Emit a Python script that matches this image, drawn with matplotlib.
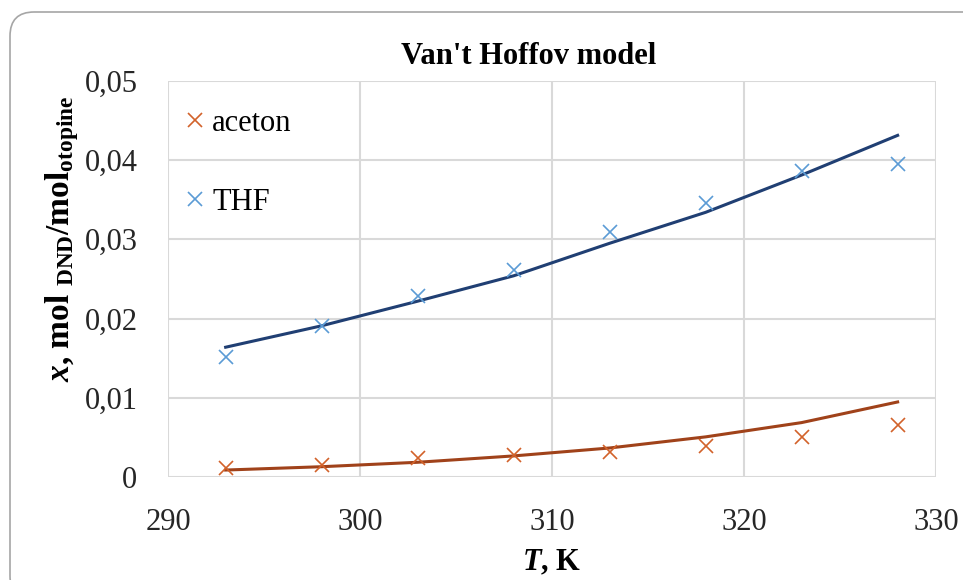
import matplotlib
matplotlib.use('Agg')
import matplotlib.pyplot as plt
from matplotlib.patches import FancyBboxPatch

plt.rcParams['font.family'] = ['Liberation Serif', 'DejaVu Serif']
plt.rcParams['mathtext.fontset'] = 'custom'
plt.rcParams['mathtext.rm'] = 'Liberation Serif'
plt.rcParams['mathtext.it'] = 'Liberation Serif:italic'
plt.rcParams['mathtext.bf'] = 'Liberation Serif:bold'
plt.rcParams['mathtext.bfit'] = 'Liberation Serif:italic:bold'

#%% data
T = [293, 298, 303, 308, 313, 318, 323, 328]
aceton_exp = [0.00113, 0.00155, 0.0024, 0.0028, 0.0032, 0.0039, 0.0051, 0.0066]
aceton_model = [0.00092, 0.00134, 0.0019, 0.0027, 0.0037, 0.0051, 0.0069, 0.0095]
thf_exp = [0.0152, 0.0191, 0.0229, 0.0261, 0.0309, 0.0346, 0.0386, 0.0395]
thf_model = [0.0164, 0.0191, 0.0222, 0.0254, 0.0295, 0.0334, 0.0381, 0.0431]

xticks = [290, 300, 310, 320, 330]
yticks = [0, 0.01, 0.02, 0.03, 0.04, 0.05]
ytick_labels = ['0', '0,01', '0,02', '0,03', '0,04', '0,05']

#%% plot
fig = plt.figure(figsize=(9.63, 5.8), dpi=100)
ax = fig.add_axes([0.1745, 0.177, 0.7975, 0.684])

# rounded chart border
fig.patches.append(FancyBboxPatch((10 / 963, -20 / 580), 980 / 963, 588 / 580,
                                  boxstyle='round,pad=0,rounding_size=0.025',
                                  transform=fig.transFigure, fill=False,
                                  edgecolor='#a6a6a6', linewidth=1.2,
                                  mutation_aspect=963 / 580))

ax.plot(T, aceton_model, color='#A0421A', lw=2.2, zorder=3)
ax.plot(T, thf_model, color='#203F73', lw=2.2, zorder=3)
ax.plot(T, aceton_exp, 'x', color='#D2622A', ms=10, mew=1.2, label='aceton', zorder=4)
ax.plot(T, thf_exp, 'x', color='#5B9BD5', ms=10, mew=1.2, label='THF', zorder=4)

ax.set_xlim(290, 330)
ax.set_ylim(0, 0.05)
ax.set_xticks(xticks)
ax.set_yticks(yticks)
ax.set_yticklabels(ytick_labels)
ax.tick_params(length=0, labelsize=22, colors='#262626')
ax.tick_params(axis='y', pad=22)
ax.tick_params(axis='x', pad=22)
ax.grid(True, color='#d9d9d9', lw=1.5)
ax.set_axisbelow(True)
for s in ax.spines.values():
    s.set_visible(False)

ax.set_title("Van't Hoffov model", fontsize=22, fontweight='bold', pad=12, x=0.47)
ax.set_xlabel(r'$\mathbfit{T}$, K', fontsize=22, fontweight='bold', labelpad=8)
ax.set_ylabel(r'$\mathbfit{x}$, mol $_{\mathbf{DND}}$/mol$_{\mathbf{otopine}}$',
              fontsize=24, fontweight='bold', labelpad=2)
ax.yaxis.set_label_coords(-0.113, 0.6)

leg = ax.legend(loc='upper left', bbox_to_anchor=(-0.016, 1.005), frameon=False,
                fontsize=22, labelspacing=1.63, handlelength=0.6,
                handletextpad=0.25, borderaxespad=0.6)

fig.savefig('out.png', dpi=100)
